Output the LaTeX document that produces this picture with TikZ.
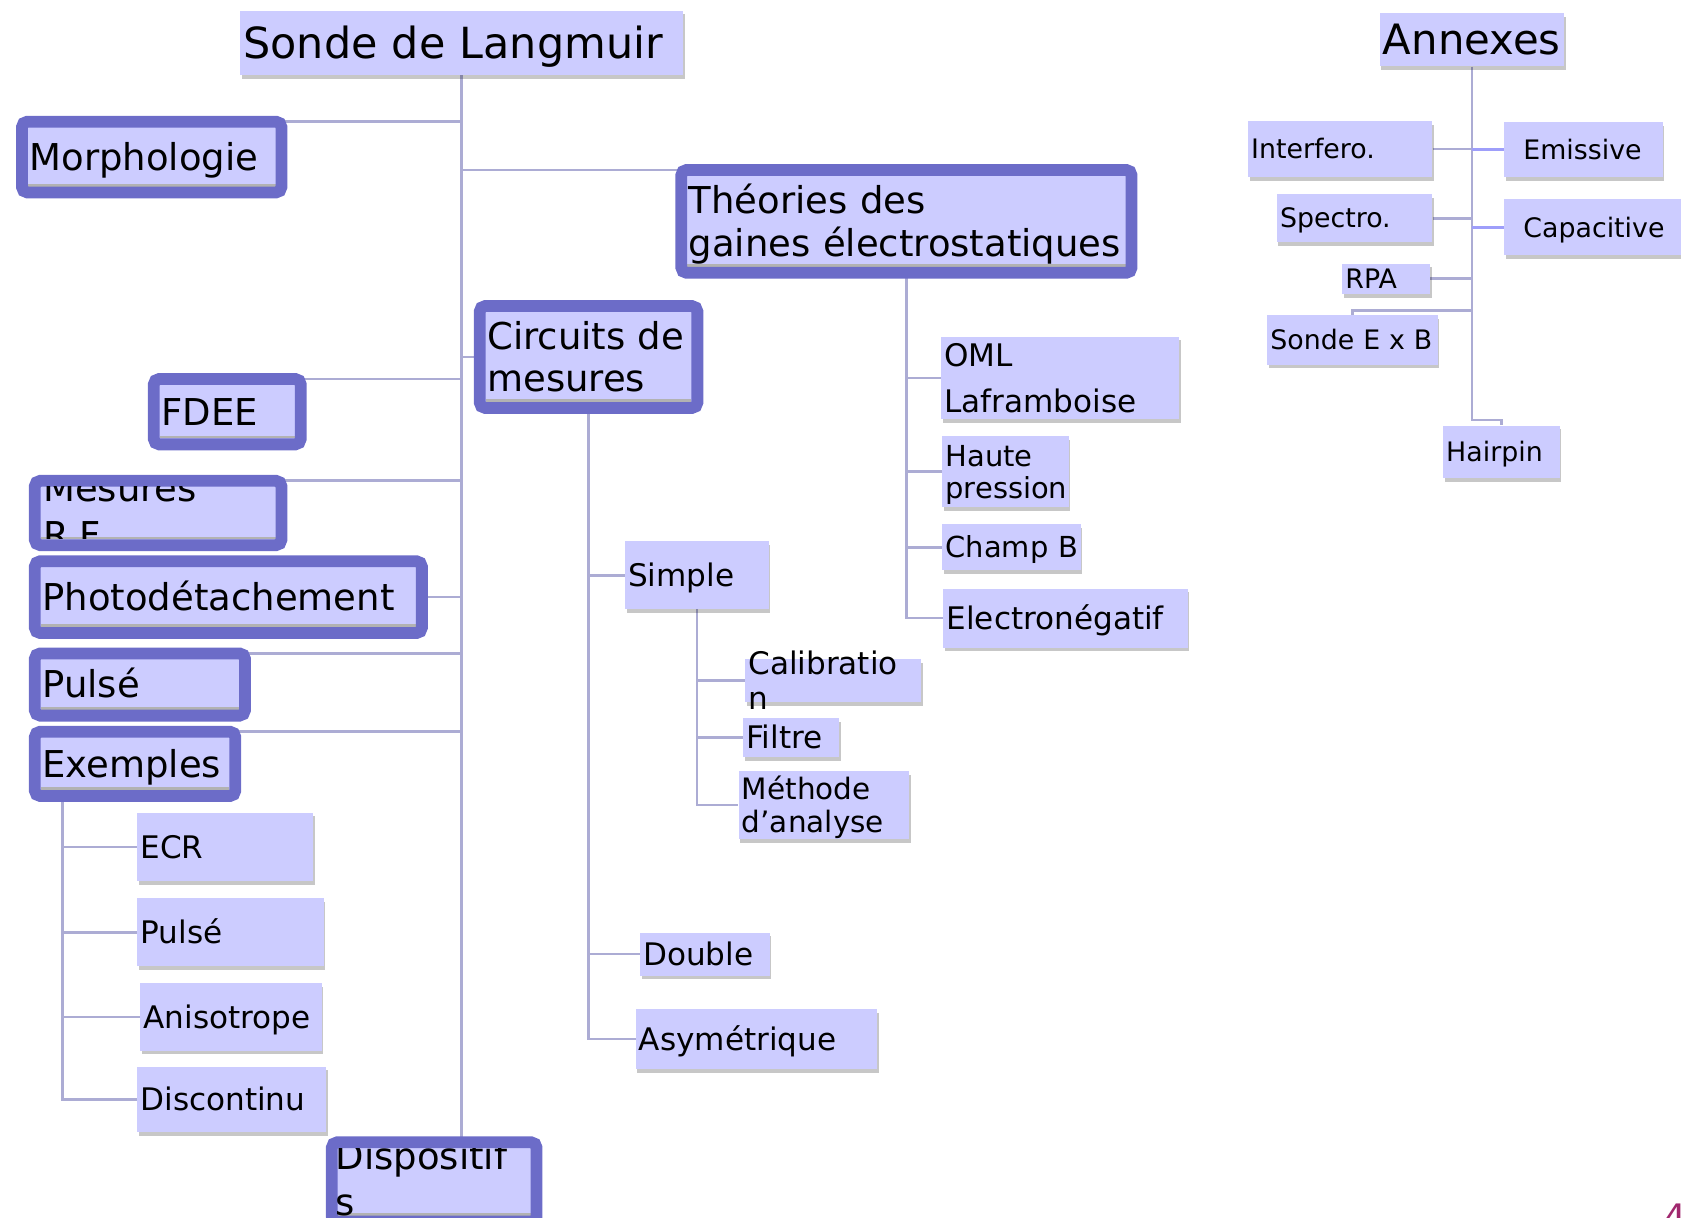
\documentclass[tikz,border=0pt]{standalone}
\usepackage{fontspec}
\setmainfont{DejaVu Sans}
\usetikzlibrary{shadows,backgrounds}
\hyphenpenalty=10000

\definecolor{boxfill}{RGB}{204,204,255}
\definecolor{boxline}{RGB}{108,108,200}
\definecolor{linkcol}{RGB}{172,172,212}
\definecolor{linkbright}{RGB}{158,158,250}
\definecolor{pagenr}{RGB}{160,40,110}

\newcommand\fbig{\fontsize{40}{46}\selectfont}
\newcommand\fmain{\fontsize{34.5}{40}\selectfont}
\newcommand\fleaf{\fontsize{29}{33}\selectfont}
\newcommand\fann{\fontsize{25}{29}\selectfont}

\tikzset{
  bigf/.style={font=\fbig, text height=29.2pt},
  mainf/.style={font=\fmain, text height=25.1pt},
  leaff/.style={font=\fleaf, text height=21.1pt},
  annf/.style={font=\fann, text height=18.2pt},
  leaf/.style 2 args={fill=boxfill, drop shadow={shadow xshift=1.5pt, shadow yshift=-3.5pt, fill=black, opacity=.22},
    minimum width=#1, minimum height=#2, text width=#1-6, inner xsep=3pt, inner ysep=0pt,
    align=left, leaff, text depth=0pt},
  mainbox/.style 2 args={draw=boxline, line width=11pt, rounded corners=5pt, fill=boxfill, outer sep=0pt,
    minimum width=#1-11, minimum height=#2-11, text width=#1-25, inner xsep=7pt, inner ysep=0pt,
    align=left, mainf, text depth=0pt,
    path picture={\fill[black!30, sharp corners] ([xshift=5.5pt,yshift=5.5pt]path picture bounding box.south west)
      rectangle ([xshift=-5.5pt,yshift=8pt]path picture bounding box.south east);}},
  cliptext/.style={align=left, inner sep=0pt, anchor=base west},
  link/.style={draw=linkcol, line width=2.5pt},
  brightlink/.style={draw=linkbright, line width=2.5pt}
}

\begin{document}
\begin{tikzpicture}[x=1pt,y=-1pt]
  \useasboundingbox (0,0) rectangle (1568,1136);

  %% Sonde de Langmuir and its branches
  \node[leaf={413}{60}, bigf] (sonde) at (430.5,40) {Sonde~de~Langmuir};
  \node[mainbox={253}{77}] (morph) at (141.5,146.5) {Morphologie};
  \node[mainbox={148}{72}] (fdee) at (212,384) {FDEE};
  \node[mainbox={241}{71}] (mesures) at (147.5,478.5) {};
  \node[mainbox={372}{78}] (photo) at (213,557) {Photodétachement};
  \node[mainbox={207}{69}] (pulse) at (130.5,638.5) {Pulsé};
  \node[mainbox={198}{71}] (exemples) at (126,712.5) {Exemples};
  \node[mainbox={202}{85}] (disp) at (405,1102.5) {};
  \node[mainbox={431}{107}, text depth=40pt] (theo) at (845.5,206.5) {Théories~des\\gaines~électrostatiques};
  \node[mainbox={214}{106}, text depth=40pt] (circ) at (549,333) {Circuits~de\\mesures};

  \begin{scope}
    \clip ([xshift=5.5pt,yshift=6pt]mesures.south west) rectangle ([xshift=-5.5pt,yshift=-5.5pt]mesures.north east);
    \node[cliptext, text width=200pt, font=\fontsize{34.5}{44}\selectfont] (mesurestxt) at (40,468) {Mesures\\R.F.};
  \end{scope}
  \begin{scope}
    \clip ([xshift=5.5pt,yshift=6pt]disp.south west) rectangle ([xshift=-5.5pt,yshift=-5.5pt]disp.north east);
    \node[cliptext, text width=180pt, font=\fontsize{34.5}{43}\selectfont] (disptxt) at (313,1091) {Dispositif\\s};
  \end{scope}

  %% Exemples
  \node[leaf={164}{64}] (ecr) at (210,790) {ECR};
  \node[leaf={174}{63}] (pulse2) at (215,869.5) {Pulsé};
  \node[leaf={169}{63}] (aniso) at (215.5,948.5) {Anisotrope};
  \node[leaf={176}{61}] (discont) at (216,1025.5) {Discontinu};

  %% Circuits de mesures
  \node[leaf={134}{63}] (simple) at (650,536.5) {Simple};
  \node[leaf={121}{40}] (double) at (657.5,890) {Double};
  \node[leaf={225}{56}] (asym) at (705.5,969) {Asymétrique};
  \node[leaf={164}{40}, text height=0pt, text depth=11.8pt] (calib) at (777,635) {Calibratio\\n};
  \node[leaf={90}{36}] (filtre) at (738,688) {Filtre};
  \node[leaf={159}{64}, font=\fontsize{27.5}{31}\selectfont, text height=20pt, text depth=31pt] (methode) at (768.5,751) {Méthode\\d’analyse};

  %% Theories des gaines
  \node[leaf={222}{77}, font=\fontsize{29}{43}\selectfont, text depth=43pt] (oml) at (989,352.5) {OML\\Laframboise};
  \node[leaf={118}{66}, font=\fontsize{27}{30}\selectfont, text height=19.7pt, text depth=30pt] (haute) at (938,440) {Haute\\pression};
  \node[leaf={129}{43}, font=\fontsize{27}{31}\selectfont, text height=19.7pt] (champ) at (943.5,510.5) {Champ~B};
  \node[leaf={228}{55}] (electro) at (994,576.5) {Electronégatif};

  %% Annexes
  \node[leaf={172}{50}, bigf, font=\fontsize{39}{45}\selectfont, text height=28.4pt] (annexes) at (1373,37) {Annexes};
  \node[leaf={172}{52}, annf] (interf) at (1250,139) {Interfero.};
  \node[leaf={148}{51}, annf] (emiss) at (1477,139.5) {\hspace*{15pt}Emissive};
  \node[leaf={145}{45}, annf] (spectro) at (1263.5,203.5) {Spectro.};
  \node[leaf={172}{52}, annf] (capac) at (1489,212) {\hspace*{15pt}Capacitive};
  \node[leaf={82}{28}, annf] (rpa) at (1293,260) {RPA};
  \node[leaf={159}{46}, annf] (sondeexb) at (1261.5,317) {Sonde~E~x~B};
  \node[leaf={109}{49}, annf] (hairpin) at (1400.5,421.5) {Hairpin};

  \node[anchor=north west, inner sep=0pt, text=pagenr, font=\fontsize{34}{40}\selectfont] (pagenum) at (1551,1123) {4};

  %% Connectors
  \begin{pgfonlayer}{background}
    \draw[link] (sonde.south) -- (sonde.south |- disp.north);
    \foreach \n in {morph,fdee,mesures,pulse,exemples}
      \draw[link] (\n.north east) -- (sonde.south |- \n.north east);
    \draw[link] (photo.east) -- (sonde.south |- photo.east);
    \draw[link] (theo.north west) -- (sonde.south |- theo.north west);
    \draw[link] (circ.west) -- (sonde.south |- circ.west);

    \coordinate (exv) at ([xshift=26pt]exemples.south west);
    \draw[link] (exv) |- (discont.west);
    \foreach \n in {ecr,pulse2,aniso}
      \draw[link] (exv |- \n.west) -- (\n.west);

    \draw[link] (circ.south) |- (asym.west);
    \foreach \n in {simple,double}
      \draw[link] (circ.south |- \n.west) -- (\n.west);
    \draw[link] (simple.south) |- (methode.west);
    \foreach \n in {calib,filtre}
      \draw[link] (simple.south |- \n.west) -- (\n.west);

    \draw[link] (theo.south) |- (electro.west);
    \foreach \n in {oml,haute,champ}
      \draw[link] (theo.south |- \n.west) -- (\n.west);

    \coordinate (hp) at ([yshift=5pt]hairpin.north);
    \draw[link] (annexes.south) |- (hp) -- (hairpin.north);
    \foreach \n in {interf,spectro,rpa}
      \draw[link] (\n.east) -- (annexes.south |- \n.east);
    \foreach \n in {emiss,capac}
      \draw[brightlink] (annexes.south |- \n.west) -- (\n.west);
    \coordinate (exb) at ([yshift=4pt]sondeexb.north);
    \draw[link] (sondeexb.north) -- (exb) -- (annexes.south |- exb);
  \end{pgfonlayer}
\end{tikzpicture}
\end{document}
